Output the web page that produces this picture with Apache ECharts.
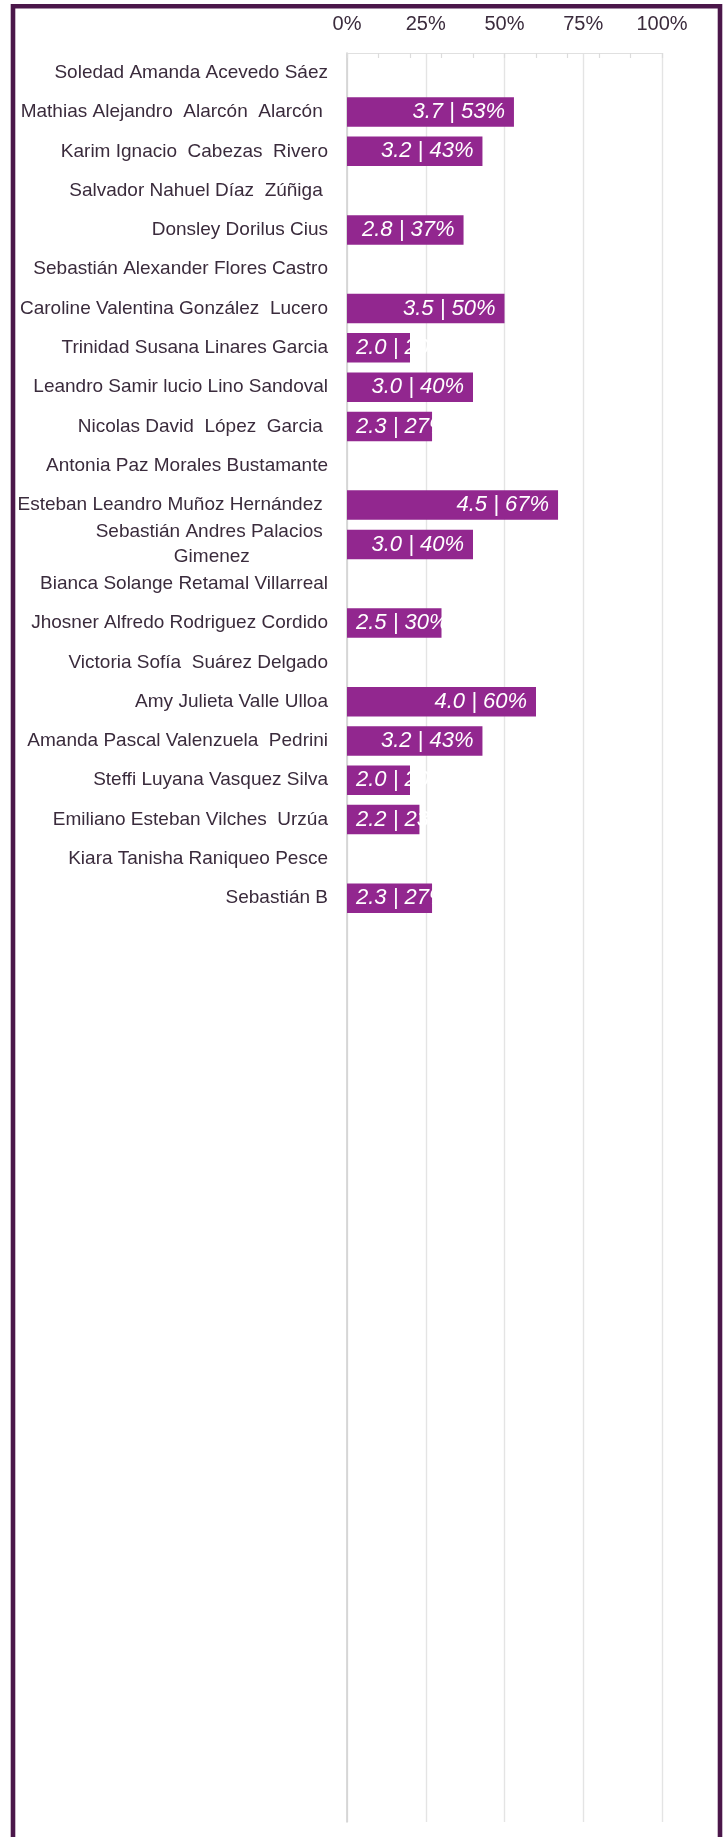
<!DOCTYPE html>
<html>
<head>
<meta charset="utf-8">
<script src="https://cdn.jsdelivr.net/npm/echarts@6/dist/echarts.min.js"></script>
<style>
  html, body { margin: 0; padding: 0; background: #fff; }
  #chart { width: 725px; height: 1837px; }
</style>
</head>
<body>
<div id="chart"></div>
<script>
// alumnos (orden de la lista)
var names = [
    'Soledad Amanda Acevedo Sáez',
    'Mathias Alejandro  Alarcón  Alarcón ',
    'Karim Ignacio  Cabezas  Rivero',
    'Salvador Nahuel Díaz  Zúñiga ',
    'Donsley Dorilus Cius',
    'Sebastián Alexander Flores Castro',
    'Caroline Valentina González  Lucero',
    'Trinidad Susana Linares Garcia',
    'Leandro Samir lucio Lino Sandoval',
    'Nicolas David  López  Garcia ',
    'Antonia Paz Morales Bustamante',
    'Esteban Leandro Muñoz Hernández ',
    'Sebastián Andres Palacios \nGimenez',
    'Bianca Solange Retamal Villarreal',
    'Jhosner Alfredo Rodriguez Cordido',
    'Victoria Sofía  Suárez Delgado',
    'Amy Julieta Valle Ulloa',
    'Amanda Pascal Valenzuela  Pedrini',
    'Steffi Luyana Vasquez Silva',
    'Emiliano Esteban Vilches  Urzúa',
    'Kiara Tanisha Raniqueo Pesce',
    'Sebastián B'
];
// nota
var grades = [null, 3.7, 3.2, null, 2.8, null, 3.5, 2.0, 3.0, 2.3, null,
              4.5, 3.0, null, 2.5, null, 4.0, 3.2, 2.0, 2.2, null, 2.3];
// porcentaje de logro
var percents = [null, 53, 43, null, 37, null, 50, 20, 40, 27, null,
                67, 40, null, 30, null, 60, 43, 20, 23, null, 27];
// filas vacías al final del rango
var emptyRows = 23;
var xTicks = [0, 25, 50, 75, 100];

var textColor = '#3a2b3c';
var font = '"Liberation Sans", Arial, sans-serif';

var categories = names.slice();
for (var i = 0; i < emptyRows; i++) categories.push('');

var barData = percents.map(function (p) {
    return {
        value: p,
        label: { position: (p !== null && p < 32) ? 'insideLeft' : 'insideRight' }
    };
});

var chart = echarts.init(document.getElementById('chart'));

var option = {
    backgroundColor: '#ffffff',
    animation: false,
    graphic: [{
        type: 'rect',
        shape: { x: 13, y: 6.3, width: 707, height: 1900 },
        style: { fill: 'none', stroke: '#4b174a', lineWidth: 4.6 },
        z: 100
    }],
    grid: { left: 347, right: 63, top: 53, bottom: 15 },
    xAxis: [{
        type: 'value',
        position: 'top',
        min: xTicks[0],
        max: xTicks[xTicks.length - 1],
        interval: 25,
        axisLine: { show: true, lineStyle: { color: '#e0e0e0', width: 1.2 } },
        axisTick: { show: false },
        splitLine: { show: true, lineStyle: { color: '#e4e4e4', width: 1.4 } },
        axisLabel: {
            formatter: '{value}%',
            color: textColor,
            fontSize: 20,
            fontFamily: font,
            margin: 19
        }
    }, {
        // marcas cada 10%
        type: 'value',
        position: 'top',
        min: 0,
        max: 100,
        interval: 10,
        axisLine: { show: false },
        axisLabel: { show: false },
        splitLine: { show: false },
        axisTick: { show: true, inside: true, length: 5, lineStyle: { color: '#dcdcdc', width: 1.2 } }
    }],
    yAxis: {
        type: 'category',
        inverse: true,
        data: categories,
        axisTick: { show: false },
        axisLine: { show: true, lineStyle: { color: '#d2d2d2', width: 1.6 } },
        axisLabel: {
            interval: 0,
            color: textColor,
            fontSize: 19,
            fontFamily: font,
            margin: 19,
            formatter: function (v) {
                if (v.indexOf('\n') < 0) return v;
                return v.split('\n').map(function (s) { return '{c|' + s + '}'; }).join('\n');
            },
            rich: {
                c: { align: 'center', fontSize: 19, lineHeight: 25, color: textColor, fontFamily: font }
            }
        }
    },
    series: [{
        type: 'bar',
        xAxisIndex: 0,
        data: barData,
        barCategoryGap: '25%',
        itemStyle: { color: '#92278f' },
        label: {
            show: true,
            distance: 9,
            color: '#ffffff',
            fontSize: 22,
            fontStyle: 'italic',
            fontFamily: font,
            formatter: function (p) {
                var g = grades[p.dataIndex];
                return g.toFixed(1) + ' | ' + percents[p.dataIndex] + '%';
            }
        }
    }]
};

chart.setOption(option);
</script>
</body>
</html>
